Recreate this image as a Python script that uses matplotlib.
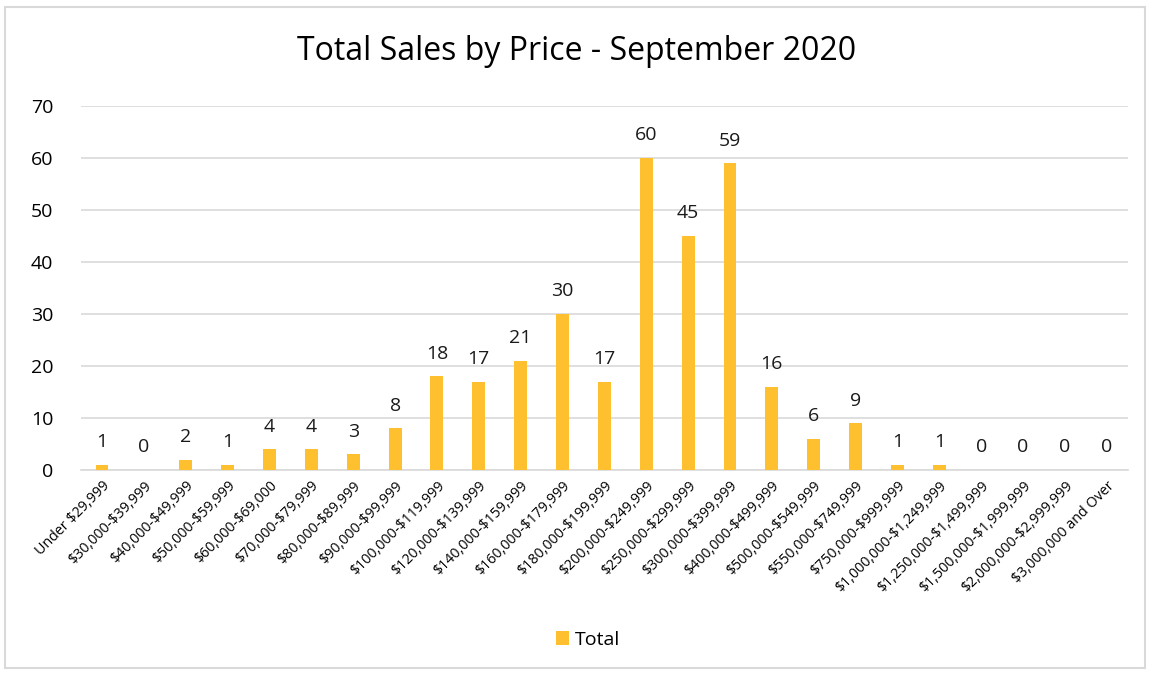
import matplotlib
matplotlib.use("Agg")
from matplotlib import pyplot as plt
from matplotlib.patches import Rectangle
import numpy as np

price_ranges = [
    "Under $29,999", "$30,000-$39,999", "$40,000-$49,999", "$50,000-$59,999",
    "$60,000-$69,000", "$70,000-$79,999", "$80,000-$89,999", "$90,000-$99,999",
    "$100,000-$119,999", "$120,000-$139,999", "$140,000-$159,999",
    "$160,000-$179,999", "$180,000-$199,999", "$200,000-$249,999",
    "$250,000-$299,999", "$300,000-$399,999", "$400,000-$499,999",
    "$500,000-$549,999", "$550,000-$749,999", "$750,000-$999,999",
    "$1,000,000-$1,249,999", "$1,250,000-$1,499,999", "$1,500,000-$1,999,999",
    "$2,000,000-$2,999,999", "$3,000,000 and Over",
]
total_sales = [1, 0, 2, 1, 4, 4, 3, 8, 18, 17, 21, 30, 17, 60, 45, 59, 16, 6, 9, 1, 1, 0, 0, 0, 0]

plt.rcParams['font.family'] = ['Open Sans', 'DejaVu Sans']
plt.rcParams['text.parse_math'] = False
bar_color = '#FFC02F'
grid_color = '#D9D9D9'

fig = plt.figure(figsize=(11.53, 6.75), dpi=100)
ax = fig.add_axes([0.0703, 0.3037, 0.9078, 0.5393])

x = np.arange(len(price_ranges))
bars = ax.bar(x, total_sales, width=0.31, color=bar_color, label='Total', zorder=3)
for xi, v in zip(x, total_sales):
    ax.text(xi, v + 2.6, str(v), ha='center', va='bottom', fontsize=14, color='#1a1a1a')

ax.set_xlim(-0.5, len(price_ranges) - 0.5)
ax.set_ylim(0, 70)
ax.set_yticks(range(0, 71, 10))
ax.grid(axis='y', color=grid_color, linewidth=1.2, zorder=0)
for s in ['top', 'right', 'left']:
    ax.spines[s].set_visible(False)
ax.spines['bottom'].set_color(grid_color)
ax.spines['bottom'].set_linewidth(1.2)
ax.tick_params(axis='both', length=0)
ax.tick_params(axis='y', labelsize=14, pad=20)
ax.tick_params(axis='x', pad=6)
ax.set_xticks(x)
ax.set_xticklabels(price_ranges, rotation=45, ha='right', rotation_mode='anchor', fontsize=10.3)

fig.suptitle('Total Sales by Price - September 2020', y=0.948, fontsize=23)
fig.legend(handles=[bars], labels=['Total'], loc='center', bbox_to_anchor=(0.51, 0.052),
           frameon=False, fontsize=14, handlelength=0.7, handleheight=0.7, handletextpad=0.3)

fig.patches.append(Rectangle((5 / 1153, 7 / 675), 1140 / 1153, 661 / 675, transform=fig.transFigure,
                             fill=False, edgecolor=grid_color, linewidth=1.5))

fig.savefig('out.png', dpi=100)
